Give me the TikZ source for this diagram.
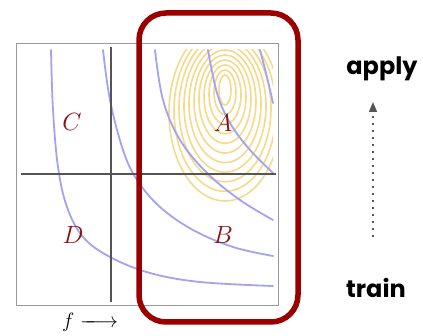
\documentclass[tikz,border=0pt]{standalone}
\usepackage{fontspec}
\newfontfamily\popp{Poppins}
\usetikzlibrary{arrows.meta}
\definecolor{framegray}{HTML}{9A9A9A}
\definecolor{axisgray}{HTML}{555555}
\definecolor{curveblue}{HTML}{A3A3F2}
\definecolor{ringyellow}{HTML}{F6D98A}
\definecolor{boxred}{HTML}{9A0000}
\definecolor{labelred}{HTML}{8A1010}
\tikzset{
  bluecurve/.style={curveblue, line width=1.8, line cap=round},
  ring/.style={ringyellow, line width=1.6},
  axisline/.style={axisgray, line width=1.1},
  region/.style={text=labelred, font=\fontsize{27}{30}\selectfont, inner sep=0},
  stage/.style={font=\popp\bfseries\fontsize{24}{28}\selectfont, inner sep=0, anchor=base},
}
\begin{document}
\begin{tikzpicture}[x=1pt,y=-1pt]
\useasboundingbox (0,0) rectangle (423,336);
\fill[white] (0,0) rectangle (423,336);
% yellow contour rings
\begin{scope}
\clip (20,50) rectangle (273,302);
\foreach \i in {0,...,10} {
  \draw[ring] (225,{90+2.3*\i}) ellipse [x radius={6+5*\i}, y radius={15+7.3*\i}];
}
\end{scope}
% blue level curves
\draw[bluecurve] plot[smooth, tension=0.6] coordinates {(51,50) (53,110) (58,167) (67,207) (83,237) (110,257) (150,273) (200,282) (273,286)};
\draw[bluecurve] plot[smooth, tension=0.6] coordinates {(103,50) (110,100) (123,150) (137,180) (160,207) (193,230) (233,247) (273,256)};
\draw[bluecurve] plot[smooth, tension=0.6] coordinates {(155,50) (163,100) (180,140) (207,173) (240,200) (273,220)};
\draw[bluecurve] plot[smooth, tension=0.6] coordinates {(208,50) (217,93) (230,123) (250,150) (273,173)};
\draw[bluecurve] plot[smooth, tension=0.6] coordinates {(260,50) (267,77) (273,103)};
% axes
\draw[axisline] (111,47) -- (111,302);
\draw[axisline] (21,174) -- (276,174);
% frame
\draw[framegray, line width=1] (16,44) rectangle (278,306);
% region labels
\node[region] (C) at (72,122) {$C$};
\node[region] (A) at (223,123) {$A$};
\node[region] (D) at (73,235) {$D$};
\node[region] (B) at (223,235) {$B$};
\node[font=\fontsize{20}{24}\selectfont, inner sep=0, anchor=base west] (f) at (62,328) {$f\relbar\mkern-10mu\longrightarrow$};
% red highlight
\draw[boxred, line width=5.5, rounded corners=27] (139,13) rectangle (298,322);
% stages
\node[stage] (apply) at (382,75) {apply};
\node[stage] (train) at (376,298) {train};
\coordinate (arrS) at (373,237);
\coordinate (arrE) at (373,102);
\draw[axisgray, line width=1.5, dash pattern=on 1.5 off 5.5, -{Triangle[width=8,length=10]}] (arrS) -- (arrE);
\end{tikzpicture}
\end{document}
